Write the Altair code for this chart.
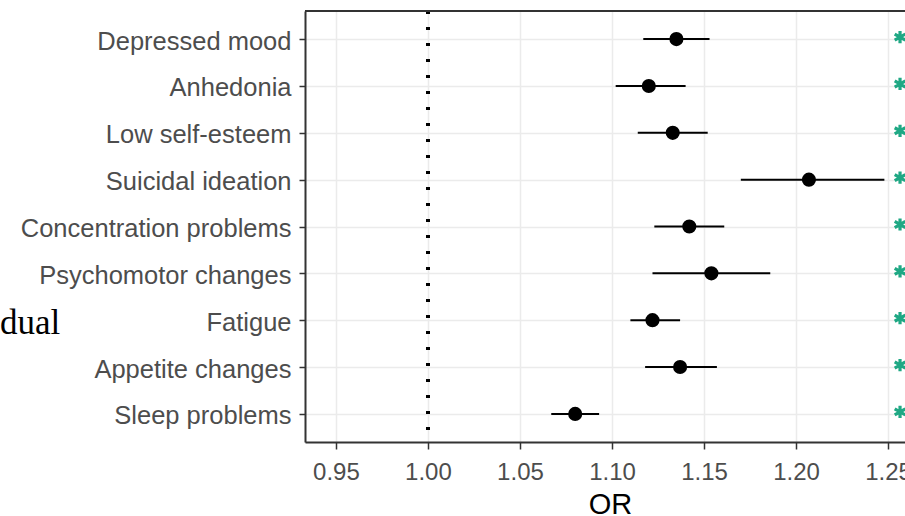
import altair as alt
import pandas as pd

# ---- data ----
symptoms = ["Depressed mood", "Anhedonia", "Low self-esteem", "Suicidal ideation",
            "Concentration problems", "Psychomotor changes", "Fatigue",
            "Appetite changes", "Sleep problems"]
or_est = [1.135, 1.120, 1.133, 1.207, 1.142, 1.154, 1.122, 1.137, 1.080]
ci_low = [1.117, 1.102, 1.114, 1.170, 1.123, 1.122, 1.110, 1.118, 1.067]
ci_high = [1.153, 1.140, 1.152, 1.248, 1.161, 1.186, 1.137, 1.157, 1.093]
x_ticks = [0.95, 1.00, 1.05, 1.10, 1.15, 1.20, 1.25]
side_text = ["dual"]

df = pd.DataFrame({"symptom": symptoms, "or": or_est, "lo": ci_low, "hi": ci_high})
side_df = pd.DataFrame({"t": side_text})

W, H = 600, 431
x_scale = alt.Scale(domain=[0.9332, 1.2592], nice=False, zero=False)
y_enc = alt.Y("symptom:N", sort=symptoms,
              scale=alt.Scale(type="point", padding=0.6),
              axis=alt.Axis(title=None, grid=True, gridColor="#ebebeb", gridWidth=1.5,
                            domainColor="#333333", domainWidth=2,
                            tickColor="#333333", tickSize=6, tickWidth=1.5,
                            labelFont="Liberation Sans", labelFontSize=25.5,
                            labelColor="#4d4d4d", labelPadding=8, labelLimit=0,
                            labelOffset=2))

base = alt.Chart(df)

bars = base.mark_rule(color="black", strokeWidth=2).encode(
    x=alt.X("lo:Q", scale=x_scale,
            axis=alt.Axis(values=x_ticks, format=".2f", title="OR",
                          grid=True, gridColor="#ebebeb", gridWidth=1.5,
                          domainColor="#333333", domainWidth=2,
                          tickColor="#333333", tickSize=7, tickWidth=1.5,
                          labelFont="Liberation Sans", labelFontSize=24,
                          labelColor="#4d4d4d", labelPadding=11,
                          titleFont="Liberation Sans", titleFontSize=29,
                          titleFontWeight="normal", titleColor="#000000",
                          titleX=305, titleY=71, titleBaseline="alphabetic",
                          titleAlign="center")),
    x2="hi:Q",
    y=y_enc,
)

pts = base.mark_point(filled=True, color="black", size=200, opacity=1).encode(
    x=alt.X("or:Q", scale=x_scale),
    y=y_enc,
)

ref = base.mark_rule(color="black", strokeWidth=3.5, strokeDash=[3, 13]).encode(
    x=alt.datum(1.0)
)

asterisk = "M0,-1L0,1M-0.87,-0.5L0.87,0.5M-0.87,0.5L0.87,-0.5"
stars = base.mark_point(shape=asterisk, filled=False, color="#1fa884", size=150,
                        strokeWidth=3.2, opacity=1, yOffset=-2).encode(
    x=alt.datum(1.2565),
    y=y_enc,
)

top_border = alt.Chart(side_df).mark_rule(color="#333333", strokeWidth=2).encode(
    x=alt.value(0), x2=alt.value(W), y=alt.value(0)
)

side = alt.Chart(side_df).mark_text(font="Liberation Serif", fontSize=35, color="#000000",
                                    align="left", baseline="alphabetic").encode(
    x=alt.value(-305), y=alt.value(323), text="t:N"
)

chart = alt.layer(ref, bars, pts, stars, top_border, side).properties(
    width=W, height=H,
    autosize=alt.AutoSizeParams(type="none"),
    padding={"left": 305, "top": 11, "right": 0, "bottom": 74},
).configure_view(stroke=None).configure(background="white")

chart.save("out.html", embed_options={"renderer": "svg", "actions": False})
